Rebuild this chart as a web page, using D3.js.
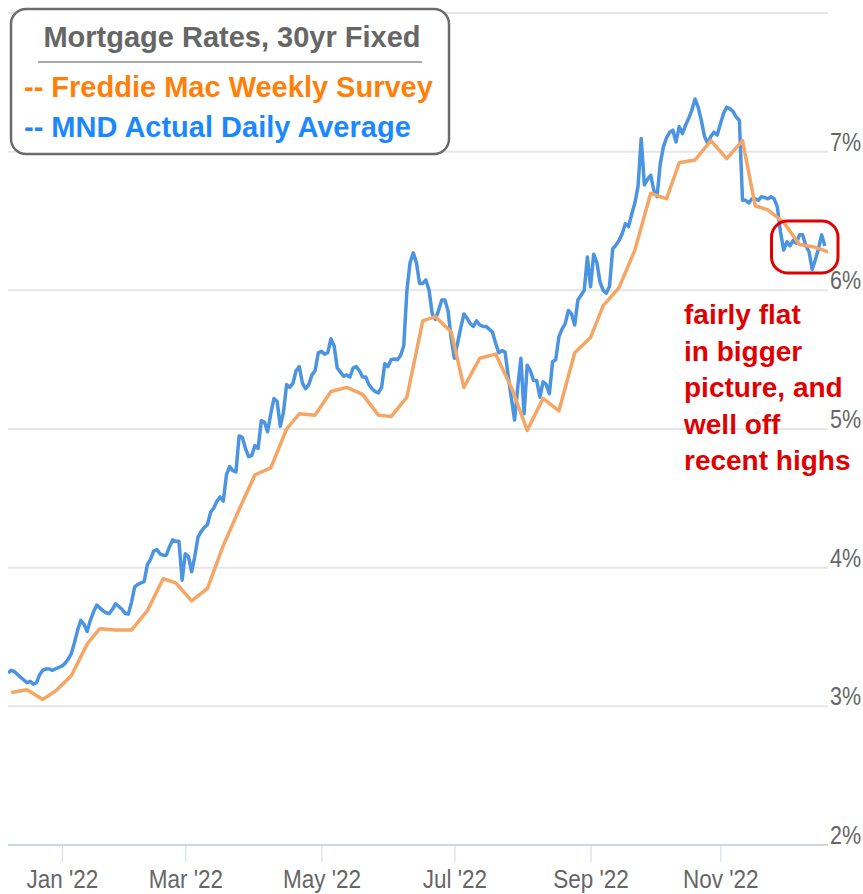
<!DOCTYPE html>
<html>
<head>
<meta charset="utf-8">
<script src="https://cdn.jsdelivr.net/npm/d3@7"></script>
<style>
  body { margin: 0; background: #fff; }
  svg { display: block; }
</style>
</head>
<body>
<svg id="chart" width="863" height="894"></svg>
<script>
// Bond market closures, skipped by the daily (business day) axis
const holidays = ["2021-12-24", "2022-01-17", "2022-02-21", "2022-04-15", "2022-05-30",
    "2022-06-20", "2022-07-04", "2022-09-05", "2022-10-10", "2022-11-11", "2022-11-24", "2022-12-26"];

// MND daily index, one value per business day starting at mndStart
const mndStart = "2021-12-08";
const mndDaily = [
    3.24, 3.26, 3.25, 3.23, 3.21, 3.19, 3.17, 3.18, 3.16, 3.17, 3.23, 3.26, 3.27, 3.27, 3.26, 3.27, 3.28,
    3.29, 3.31, 3.34, 3.38, 3.46, 3.55, 3.62, 3.59, 3.54, 3.62, 3.68, 3.73, 3.71, 3.69, 3.675, 3.67, 3.70,
    3.74, 3.72, 3.70, 3.67, 3.665, 3.75, 3.86, 3.88, 3.89, 3.90, 4.02, 4.06, 4.12, 4.13, 4.10, 4.09, 4.09,
    4.15, 4.20, 4.19, 4.19, 3.91, 4.10, 4.08, 3.97, 4.08, 4.22, 4.26, 4.29, 4.31, 4.40, 4.43, 4.48, 4.51,
    4.48, 4.67, 4.73, 4.70, 4.69, 4.95, 4.94, 4.86, 4.80, 4.81, 4.88, 4.86, 5.06, 5.05, 4.98, 5.11, 5.22,
    5.20, 5.02, 5.12, 5.32, 5.30, 5.33, 5.42, 5.45, 5.33, 5.29, 5.32, 5.39, 5.42, 5.55, 5.56, 5.54, 5.55,
    5.65, 5.60, 5.44, 5.41, 5.38, 5.39, 5.375, 5.44, 5.45, 5.42, 5.375, 5.375, 5.32, 5.29, 5.27, 5.26,
    5.30, 5.47, 5.45, 5.50, 5.505, 5.50, 5.53, 5.60, 6.00, 6.20, 6.27, 6.20, 6.05, 6.05, 6.075, 6.00,
    5.83, 5.79, 5.855, 5.93, 5.93, 5.85, 5.65, 5.51, 5.62, 5.73, 5.83, 5.80, 5.76, 5.74, 5.78, 5.75,
    5.74, 5.74, 5.72, 5.70, 5.62, 5.55, 5.565, 5.555, 5.38, 5.22, 5.065, 5.30, 5.51, 5.11, 5.46, 5.42,
    5.35, 5.35, 5.23, 5.34, 5.32, 5.255, 5.485, 5.50, 5.665, 5.72, 5.76, 5.855, 5.83, 5.75, 5.93, 5.965,
    6.00, 6.24, 6.025, 6.26, 6.20, 6.06, 6.00, 5.98, 6.03, 6.30, 6.325, 6.36, 6.41, 6.48, 6.46, 6.55,
    6.63, 6.75, 7.095, 6.76, 6.80, 6.83, 6.72, 6.675, 6.91, 7.035, 7.10, 7.14, 7.155, 7.07, 7.18, 7.13,
    7.19, 7.24, 7.30, 7.38, 7.32, 7.225, 7.11, 7.06, 7.11, 7.14, 7.12, 7.20, 7.275, 7.32, 7.31, 7.29,
    7.25, 7.225, 6.65, 6.65, 6.63, 6.66, 6.66, 6.65, 6.675, 6.67, 6.66, 6.675, 6.66, 6.60, 6.42, 6.29,
    6.35, 6.32, 6.36, 6.34, 6.40, 6.40, 6.32, 6.28, 6.15, 6.22, 6.30, 6.40, 6.32
];

// Freddie Mac weekly survey
const freddieDates = ["2021-12-09", "2021-12-16", "2021-12-23", "2021-12-30",
    "2022-01-06", "2022-01-13", "2022-01-20", "2022-01-27", "2022-02-03", "2022-02-10", "2022-02-17", "2022-02-24",
    "2022-03-03", "2022-03-10", "2022-03-17", "2022-03-24", "2022-03-31", "2022-04-07", "2022-04-14", "2022-04-21",
    "2022-04-28", "2022-05-05", "2022-05-12", "2022-05-19", "2022-05-26", "2022-06-02", "2022-06-09", "2022-06-16",
    "2022-06-23", "2022-06-30", "2022-07-07", "2022-07-14", "2022-07-21", "2022-07-28", "2022-08-04", "2022-08-11",
    "2022-08-18", "2022-08-25", "2022-09-01", "2022-09-08", "2022-09-15", "2022-09-22", "2022-09-29", "2022-10-06",
    "2022-10-13", "2022-10-20", "2022-10-27", "2022-11-03", "2022-11-10", "2022-11-17", "2022-11-23", "2022-12-01",
    "2022-12-08", "2022-12-15", "2022-12-22"];
const freddieRates = [3.10, 3.12, 3.05, 3.11,
    3.22, 3.45, 3.56, 3.55, 3.55, 3.69, 3.92, 3.89,
    3.76, 3.85, 4.16, 4.42, 4.67, 4.72, 5.00, 5.11,
    5.10, 5.27, 5.30, 5.25, 5.10, 5.09, 5.23, 5.78,
    5.81, 5.70, 5.30, 5.51, 5.54, 5.30, 4.99, 5.22,
    5.13, 5.55, 5.66, 5.89, 6.02, 6.29, 6.70, 6.66,
    6.92, 6.94, 7.08, 6.95, 7.08, 6.61, 6.58, 6.49,
    6.33, 6.31, 6.27];

const axisStart = "2021-12-08";
const axisEnd = "2022-12-21";
const tickDates = ["2022-01-03", "2022-03-01", "2022-05-02", "2022-07-01", "2022-09-01", "2022-11-01"];
const yTicks = [2, 3, 4, 5, 6, 7, 8];
const yLabelTicks = [2, 3, 4, 5, 6, 7];

const legendTitle = "Mortgage Rates, 30yr Fixed";
const legendItems = ["-- Freddie Mac Weekly Survey", "-- MND Actual Daily Average"];
const noteLines = ["fairly flat", "in bigger", "picture, and", "well off", "recent highs"];

const colors = {
    mnd: "#4a94e2",
    freddie: "#f5a664",
    freddieText: "#ff7f0a",
    mndText: "#1c88ff",
    note: "#e00000",
    grid: "#e6e6e6",
    axis: "#ccd6eb",
    label: "#666666"
};

let svg = d3.select("#chart");

let parseDate = d3.timeParse("%Y-%m-%d");
let fmtDate = d3.timeFormat("%Y-%m-%d");
let holidaySet = new Set(holidays);

// business-day calendar, so weekends and holidays take no room on the axis
let calendar = d3.timeDay.range(parseDate("2021-12-01"), parseDate("2023-01-01"))
    .filter(d => d.getDay() !== 0 && d.getDay() !== 6 && !holidaySet.has(fmtDate(d)));
let calIndex = {};
calendar.forEach((d, i) => { calIndex[fmtDate(d)] = i; });
function bd(s) { return calIndex[s]; }

let plot = { left: 8, right: 828, top: 13, bottom: 845 };

let x = d3.scaleLinear()
    .domain([bd(axisStart), bd(axisEnd)])
    .range([plot.left, plot.right]);

let y = d3.scaleLinear()
    .domain([2, 8])
    .range([plot.bottom, plot.top]);

let mndData = mndDaily.map((v, i) => ({ c: bd(mndStart) + i, v: v }));
let freddieData = freddieDates.map((d, i) => ({ c: bd(d), v: freddieRates[i] }));

svg.append("defs").append("clipPath")
    .attr("id", "plotClip")
    .append("rect")
    .attr("x", plot.left)
    .attr("y", 0)
    .attr("width", plot.right - plot.left)
    .attr("height", plot.bottom);

// Draw gridlines.
svg.append("g")
    .selectAll("line")
    .data(yTicks.filter(t => t > 2))
    .join("line")
    .attr("x1", plot.left)
    .attr("x2", plot.right)
    .attr("y1", d => y(d))
    .attr("y2", d => y(d))
    .attr("stroke", colors.grid)
    .attr("stroke-width", 2);

// Bottom axis with tick marks.
let xAxis = d3.axisBottom(x)
    .tickValues(tickDates.map(bd))
    .tickFormat(c => d3.timeFormat("%b '%y")(calendar[c]))
    .tickSize(17)
    .tickSizeOuter(0);

let xAxisG = svg.append("g")
    .attr("transform", "translate(0," + plot.bottom + ")")
    .call(xAxis);
xAxisG.select(".domain")
    .attr("stroke", colors.axis)
    .attr("stroke-width", 2)
    .attr("d", "M" + plot.left + ",0H" + plot.right);
xAxisG.selectAll(".tick line").attr("stroke", colors.axis);
xAxisG.selectAll(".tick text")
    .attr("fill", colors.label)
    .attr("font-family", "'Liberation Sans', Arial, sans-serif")
    .attr("font-size", 25)
    .attr("dy", 0)
    .attr("y", 43)
    .attr("transform", "scale(0.9,1)");

// Right-hand percent labels.
svg.append("g")
    .selectAll("text")
    .data(yLabelTicks)
    .join("text")
    .attr("transform", d => "translate(" + (plot.right + 2) + "," + (y(d) - 1) + ") scale(0.86,1)")
    .attr("fill", colors.label)
    .attr("font-family", "'Liberation Sans', Arial, sans-serif")
    .attr("font-size", 25)
    .text(d => d + "%");

// Draw lines.
let lineGen = d3.line()
    .x(d => x(d.c))
    .y(d => y(d.v));

let lines = svg.append("g").attr("clip-path", "url(#plotClip)");
lines.append("path")
    .datum(mndData)
    .attr("d", lineGen)
    .attr("fill", "none")
    .attr("stroke", colors.mnd)
    .attr("stroke-width", 3.5)
    .attr("stroke-linejoin", "round");
lines.append("path")
    .datum(freddieData)
    .attr("d", lineGen)
    .attr("fill", "none")
    .attr("stroke", colors.freddie)
    .attr("stroke-width", 3.5)
    .attr("stroke-linejoin", "round");

// Circle around the recent stretch.
let ringFrom = bd("2022-11-30"), ringTo = bd("2022-12-21");
let ringTop = 6.5, ringBottom = 6.125;
svg.append("rect")
    .attr("x", x(ringFrom) - 9)
    .attr("y", y(ringTop))
    .attr("width", x(ringTo) - x(ringFrom) + 19)
    .attr("height", y(ringBottom) - y(ringTop))
    .attr("rx", 16)
    .attr("fill", "none")
    .attr("stroke", colors.note)
    .attr("stroke-width", 3);

// Annotation text.
svg.append("g")
    .selectAll("text")
    .data(noteLines)
    .join("text")
    .attr("x", 684)
    .attr("y", (d, i) => 324 + i * 36.5)
    .attr("fill", colors.note)
    .attr("font-family", "'Liberation Sans', Arial, sans-serif")
    .attr("font-weight", "bold")
    .attr("font-size", 28)
    .text(d => d);

// Legend box.
let legend = svg.append("g");
legend.append("rect")
    .attr("x", 11)
    .attr("y", 9)
    .attr("width", 438)
    .attr("height", 145)
    .attr("rx", 15)
    .attr("fill", "#fff")
    .attr("stroke", "#6b6b6b")
    .attr("stroke-width", 2.5);
legend.append("text")
    .attr("x", 232)
    .attr("y", 47)
    .attr("text-anchor", "middle")
    .attr("fill", "#666")
    .attr("font-family", "'Liberation Sans', Arial, sans-serif")
    .attr("font-weight", "bold")
    .attr("font-size", 29)
    .text(legendTitle);
legend.append("line")
    .attr("x1", 38)
    .attr("x2", 422)
    .attr("y1", 62)
    .attr("y2", 62)
    .attr("stroke", "#555")
    .attr("stroke-width", 1);
legend.selectAll("text.item")
    .data(legendItems)
    .join("text")
    .attr("class", "item")
    .attr("x", 24)
    .attr("y", (d, i) => 97 + i * 40)
    .attr("fill", (d, i) => i === 0 ? colors.freddieText : colors.mndText)
    .attr("font-family", "'Liberation Sans', Arial, sans-serif")
    .attr("font-weight", "bold")
    .attr("font-size", 29)
    .text(d => d);
</script>
</body>
</html>
